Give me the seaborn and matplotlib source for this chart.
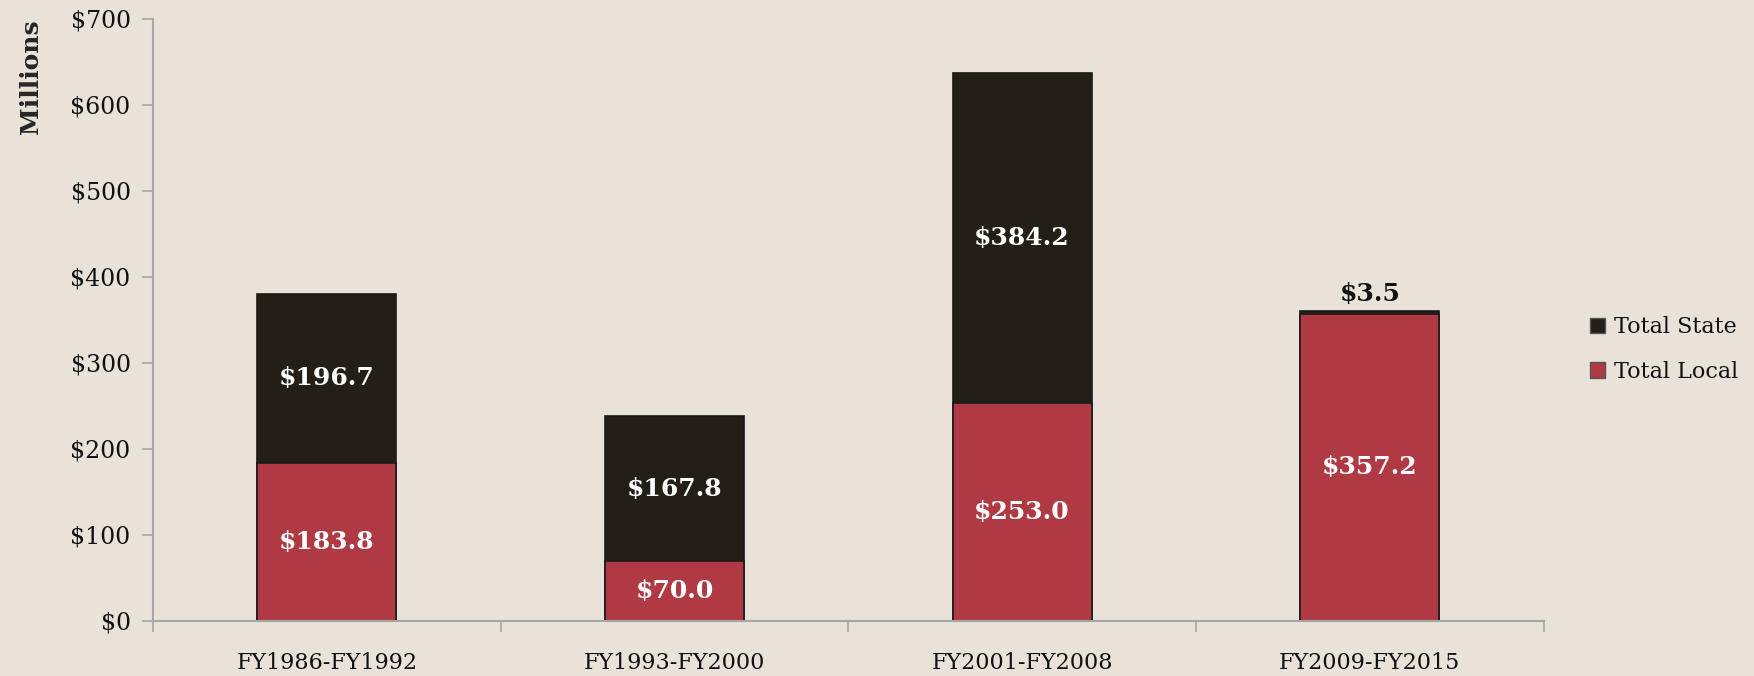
import matplotlib.pyplot as plt
import numpy as np
import pandas as pd
import seaborn as sns

periods = ["FY1986-FY1992", "FY1993-FY2000", "FY2001-FY2008", "FY2009-FY2015"]
total_local = [183.8, 70.0, 253.0, 357.2]
total_state = [196.7, 167.8, 384.2, 3.5]

BG = "#E8E2D8"
STATE_COLOR = "#231F16"
LOCAL_COLOR = "#B03A44"
AXIS_GRAY = "#A6A6A6"

sns.set_theme(style="white")
plt.rcParams.update({
    "font.family": ["DejaVu Serif"],
    "figure.facecolor": BG,
    "axes.facecolor": BG,
    "savefig.facecolor": BG,
})

df = pd.DataFrame({
    "period": periods,
    "local": total_local,
    "state": total_state,
})
df["total"] = df["local"] + df["state"]

fig = plt.figure(figsize=(17.54, 6.76), dpi=100)
ax = fig.add_axes([0.0872, 0.0814, 0.7928, 0.8906])

# stacked: full height in state colour, local drawn over it
sns.barplot(data=df, x="period", y="total", order=periods, color=STATE_COLOR,
            width=0.4, edgecolor="#1a1a1a", linewidth=1.2, saturation=1, ax=ax)
sns.barplot(data=df, x="period", y="local", order=periods, color=LOCAL_COLOR,
            width=0.4, edgecolor="#1a1a1a", linewidth=1.2, saturation=1, ax=ax)

ax.set_xlim(-0.5, 3.5)
ax.set_ylim(0, 700)
ax.set_yticks(np.arange(0, 701, 100))
ax.set_yticklabels([f"${v}" for v in range(0, 701, 100)], fontsize=17, color="#111111")
ax.set_xticks(range(len(periods)))
ax.set_xticklabels(periods, fontsize=16, color="#111111")
ax.set_xticks(np.arange(-0.5, 3.6, 1), minor=True)
ax.tick_params(axis="x", which="major", bottom=True, length=0, pad=22)
ax.tick_params(axis="x", which="minor", bottom=True, length=8, color=AXIS_GRAY,
               width=1.2, direction="out")
ax.tick_params(axis="y", left=True, length=8, color=AXIS_GRAY, width=1.2,
               direction="out", pad=8)

for side in ["top", "right"]:
    ax.spines[side].set_visible(False)
for side in ["left", "bottom"]:
    ax.spines[side].set_color(AXIS_GRAY)
    ax.spines[side].set_linewidth(1.5)

ax.set_xlabel("")
ax.set_ylabel("Millions", fontsize=18, fontweight="bold", loc="top", labelpad=20)

for i, row in df.iterrows():
    ax.text(i, row["local"] / 2, f"${row['local']:.1f}", ha="center", va="center",
            color="white", fontsize=18, fontweight="bold")
    if row["state"] > 30:
        ax.text(i, row["local"] + row["state"] / 2, f"${row['state']:.1f}",
                ha="center", va="center", color="white", fontsize=18, fontweight="bold")
    else:
        ax.text(i, row["total"] + 6, f"${row['state']:.1f}", ha="center", va="bottom",
                color="#111111", fontsize=18, fontweight="bold")

handles = [
    plt.Rectangle((0, 0), 1, 1, facecolor=STATE_COLOR, edgecolor="#555555"),
    plt.Rectangle((0, 0), 1, 1, facecolor=LOCAL_COLOR, edgecolor="#555555"),
]
leg = fig.legend(handles, ["Total State", "Total Local"], loc="center left",
                 bbox_to_anchor=(0.895, 0.483), frameon=False, fontsize=16,
                 handlelength=0.7, handleheight=0.7, handletextpad=0.4, labelspacing=1.0)
for t in leg.get_texts():
    t.set_color("#111111")

fig.savefig("out.png", dpi=100, facecolor=BG)
